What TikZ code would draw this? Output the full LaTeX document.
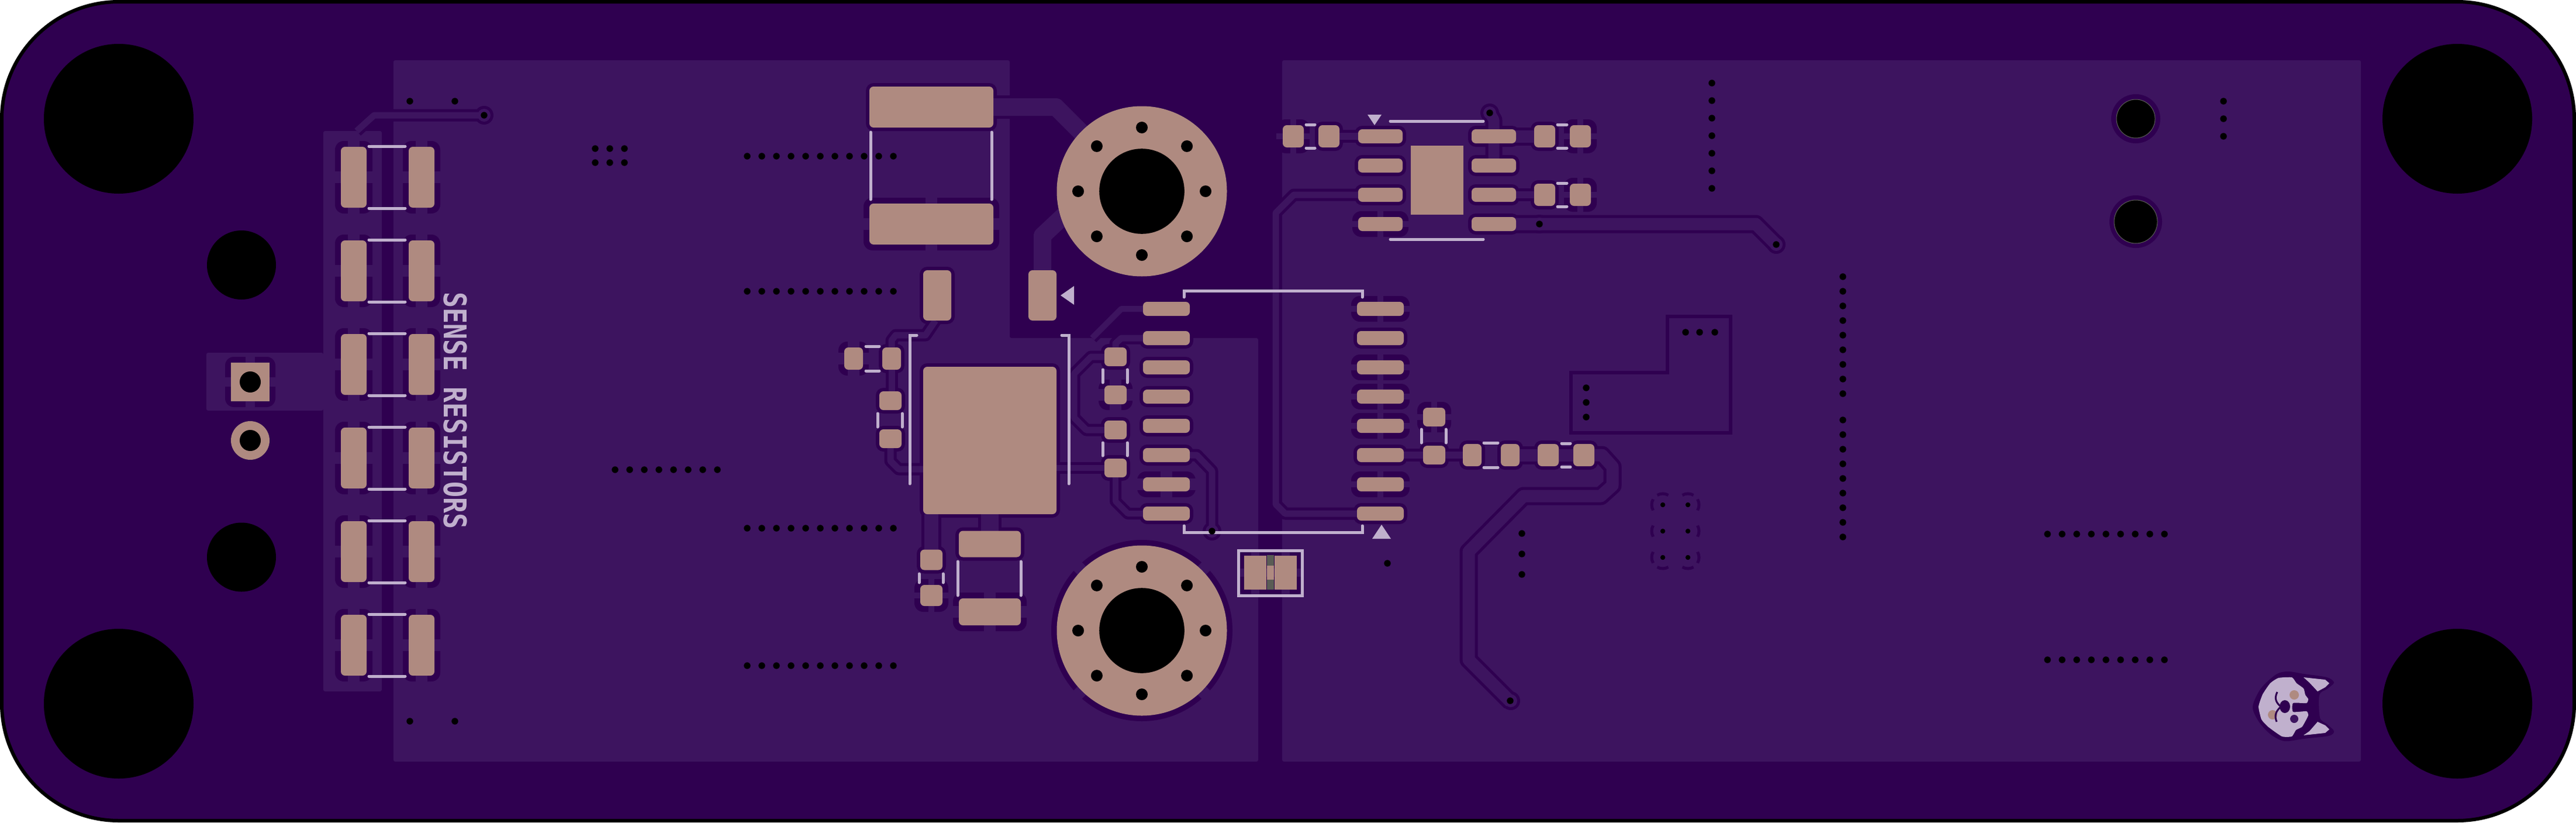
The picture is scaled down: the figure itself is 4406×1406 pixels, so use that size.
\documentclass[tikz,border=0pt]{standalone}
\usepackage{fontspec}
\usepackage{graphicx}
\newfontfamily\silkfont{DejaVu Sans Mono}
\definecolor{boardpurple}{RGB}{47,0,80}
\definecolor{pourpurple}{RGB}{61,20,95}
\definecolor{copperpad}{RGB}{175,138,128}
\definecolor{silkwhite}{RGB}{192,176,205}
\definecolor{leadgray}{RGB}{90,92,85}
\tikzset{
  pour/.style={fill=pourpurple},
  clearing/.style={fill=boardpurple},
  copper/.style={fill=copperpad},
  silk/.style={draw=silkwhite,line width=0.05cm,line cap=round},
  silkmark/.style={fill=silkwhite},
  drill/.style={fill=black},
  trk/.style={draw=\tcol,line width=(#1+\textra)*0.01cm,line join=round},
}
\newcommand{\thermalpad}[5]{%
  \ifnum\padpass=0
    \fill[clearing,rounded corners=1.5mm] ({#1-#3/2-10},{#2-#4/2-10}) rectangle ++({#3+20},{#4+20});
    \fill[pour] ({#1-#5/2},{#2-#4/2-11}) rectangle ++(#5,{#4+22});
    \fill[pour] ({#1-#3/2-11},{#2-#5/2}) rectangle ++({#3+22},#5);
  \else
    \fill[copper,rounded corners=0.7mm] ({#1-#3/2},{#2-#4/2}) rectangle ++(#3,#4);
  \fi}
\newcommand{\solidpad}[4]{%
  \ifnum\padpass=0
    \fill[clearing,rounded corners=1.3mm] ({#1-#3/2-6},{#2-#4/2-6}) rectangle ++({#3+12},{#4+12});
  \else
    \fill[copper,rounded corners=0.7mm] ({#1-#3/2},{#2-#4/2}) rectangle ++(#3,#4);
  \fi}
\newcommand{\boardpads}{%
  \foreach \y in {303,463,623,783,943,1103} {
    \thermalpad{605}{\y}{44}{104}{20}
    \thermalpad{721}{\y}{44}{104}{20}
  }
  \solidpad{1593}{183}{212}{70}
  \thermalpad{1593}{383}{212}{70}{20}
  \solidpad{1603}{505}{48}{86}
  \solidpad{1783}{505}{48}{86}
  \thermalpad{1460}{613}{32}{38}{20}
  \solidpad{1525}{613}{32}{38}
  \solidpad{1523}{685}{38}{32}
  \solidpad{1523}{750}{38}{32}
  \solidpad{1693}{753}{228}{252}
  \solidpad{1908}{610}{38}{32}
  \thermalpad{1908}{675}{38}{32}{20}
  \solidpad{1908}{735}{38}{32}
  \solidpad{1908}{800}{38}{32}
  \solidpad{1593}{957}{38}{35}
  \thermalpad{1593}{1018}{38}{36}{10}
  \solidpad{1693}{930}{106}{45}
  \thermalpad{1693}{1046}{106}{46}{20}
  \foreach \y in {528,578,628,678,728,778,878} {\solidpad{1995}{\y}{80}{24}}
  \thermalpad{1995}{828}{80}{24}{20}
  \foreach \y in {528,628,678,728,828} {\thermalpad{2361}{\y}{80}{24}{10}}
  \foreach \y in {578,778,878} {\solidpad{2361}{\y}{80}{24}}
  \thermalpad{2453}{713}{38}{32}{10}
  \solidpad{2453}{778}{38}{32}
  \solidpad{2518}{778}{32}{38}
  \solidpad{2583}{778}{32}{38}
  \solidpad{2648}{778}{36}{38}
  \solidpad{2709}{778}{36}{38}
  \solidpad{2361}{233}{76}{24}
  \solidpad{2361}{283}{76}{24}
  \solidpad{2361}{333}{76}{24}
  \thermalpad{2361}{383}{76}{24}{10}
  \foreach \y in {233,283,333,383} {\solidpad{2555}{\y}{76}{24}}
  \thermalpad{2212}{233}{36}{38}{10}
  \solidpad{2273}{233}{36}{38}
  \solidpad{2642}{233}{36}{38}
  \thermalpad{2703}{233}{36}{38}{10}
  \solidpad{2642}{333}{36}{38}
  \thermalpad{2703}{333}{36}{38}{10}
}
\begin{document}
\begin{tikzpicture}[x=0.01cm,y=-0.01cm]
\useasboundingbox (0,0) rectangle (4406,1406);
\fill[white] (0,0) rectangle (4406,1406);
\filldraw[clearing,draw=black,line width=0.06cm,rounded corners=2cm] (3,3) rectangle (4403,1403);

\fill[pour,rounded corners=0.3mm] (673,103) -- (1727,103) -- (1727,578) -- (2152,578) -- (2152,1302) -- (673,1302) -- cycle;
\fill[pour,rounded corners=0.3mm] (2193,103) rectangle (4038,1302);
\fill[pour,rounded corners=0.3mm] (553,224) rectangle (653,1182);
\fill[pour,rounded corners=0.3mm] (353,603) rectangle (553,702);

\draw[boardpurple,line width=0.06cm] (2687,637) -- (2852,637) -- (2852,541) -- (2960,541) -- (2960,740) -- (2687,740) -- cycle;

\def\padpass{0}
\boardpads
\thermalpad{428}{653}{66}{66}{16}
\thermalpad{2147}{979}{38}{58}{14}
\thermalpad{2199}{979}{38}{58}{14}
\fill[clearing] (1953,1078) circle (155);
\draw[pourpurple,line width=0.2cm] (1953,1078) ++(45:160) -- ++(225:320);
\draw[pourpurple,line width=0.2cm] (1953,1078) ++(135:160) -- ++(315:320);
\foreach \y in {863,908,953} {
  \draw[boardpurple,line width=0.05cm] (2844,\y) ++(150:19) arc (150:210:19);
  \draw[boardpurple,line width=0.05cm] (2887,\y) ++(-30:19) arc (-30:30:19);
}
\foreach \x in {2844,2887} {
  \draw[boardpurple,line width=0.05cm] (\x,863) ++(240:19) arc (240:300:19);
  \draw[boardpurple,line width=0.05cm] (\x,953) ++(60:19) arc (60:120:19);
}

\foreach \textra/\tcol in {10/boardpurple,0/pourpurple} {
  \draw[trk=30] (1699,183) -- (1806,183) -- (1870,247);
  \draw[trk=30] (1783,462) -- (1783,403) -- (1850,340);
  \draw[trk=11] (610,224) -- (640,197) -- (828,197);
  \draw[trk=11] (1600,548) -- (1583,573) -- (1532,573) -- (1525,582) -- (1525,600);
  \draw[trk=11] (1525,632) -- (1525,669);
  \draw[trk=11] (1523,766) -- (1523,788) -- (1537,802) -- (1582,802);
  \draw[trk=10] (1807,800) -- (1892,800);
  \draw[trk=11] (1889,610) -- (1866,610) -- (1837,639) -- (1837,714) -- (1858,735) -- (1889,735);
  \draw[trk=11] (1908,597) -- (1908,587) -- (1918,578) -- (1958,578);
  \draw[trk=10] (1958,528) -- (1918,528) -- (1868,578);
  \draw[trk=10] (1908,813) -- (1908,857) -- (1929,878) -- (1958,878);
  \draw[trk=30] (1693,879) -- (1693,910);
  \draw[trk=24] (1593,879) -- (1593,942);
  \draw[trk=11] (2032,778) -- (2047,778) -- (2073,805) -- (2073,908);
  \draw[trk=12] (2398,778) -- (2436,778);
  \draw[trk=12] (2470,778) -- (2505,778);
  \draw[trk=21] (2596,778) -- (2633,778);
  \draw[trk=21] (2663,778) -- (2694,778);
  \draw[trk=21] (2724,778) -- (2740,778) -- (2758,798) -- (2758,830) -- (2738,848) -- (2606,848) -- (2512,943) -- (2512,1128) -- (2584,1200);
  \draw[trk=12] (2288,233) -- (2326,233);
  \draw[trk=21] (2590,233) -- (2627,233);
  \draw[trk=12] (2590,333) -- (2627,333);
  \draw[trk=19] (2548,193) -- (2555,205) -- (2555,283);
  \draw[trk=21] (2590,383) -- (3003,383) -- (3038,418);
  \draw[trk=11] (2326,333) -- (2213,333) -- (2182,364) -- (2182,862) -- (2198,878) -- (2324,878);
  \foreach \x/\y in {828/197,2073/908,2548/193,2633/383,3038/418,2584/1198} {
    \fill[\tcol] (\x,\y) circle ({11+\textra/2});
  }
}

\def\padpass{1}
\boardpads
\fill[copper] (395,620) rectangle (461,686);
\fill[copper] (428,753) circle (33);
\fill[copper] (2128,950) rectangle (2166,1008);
\fill[copper] (2180,950) rectangle (2218,1008);
\fill[leadgray] (2167,949) rectangle (2179,1008);
\fill[copper] (2167,967) rectangle (2179,991);
\fill[copper] (1953,327) circle (145.5);
\fill[copper] (1953,1078) circle (145.5);
\fill[copper] (2413,249) rectangle (2503,367);

\foreach \y in {250,410,570,730,890,1050} {
  \draw[silk] (631,\y) -- (693,\y);
  \draw[silk] (631,{\y+106}) -- (693,{\y+106});
}
\draw[silk] (1489,226) -- (1489,341);
\draw[silk] (1696,226) -- (1696,341);
\draw[silk] (1568,573) -- (1556,573) -- (1556,827);
\draw[silk] (1816,573) -- (1828,573) -- (1828,827);
\draw[silk] (1481,592) -- (1504,592);
\draw[silk] (1481,634) -- (1504,634);
\draw[silk] (1501,707) -- (1501,730);
\draw[silk] (1543,707) -- (1543,730);
\draw[silk] (1886,632) -- (1886,654);
\draw[silk] (1928,632) -- (1928,654);
\draw[silk] (1886,757) -- (1886,779);
\draw[silk] (1928,757) -- (1928,779);
\draw[silk] (1572,981) -- (1572,996);
\draw[silk] (1613,981) -- (1613,996);
\draw[silk] (1638,960) -- (1638,1018);
\draw[silk] (1746,960) -- (1746,1018);
\draw[silk] (2025,508) -- (2025,497) -- (2330,497) -- (2330,508);
\draw[silk] (2025,899) -- (2025,910) -- (2330,910) -- (2330,899);
\draw[silk] (2431,734) -- (2431,757);
\draw[silk] (2473,734) -- (2473,757);
\draw[silk] (2538,757) -- (2562,757);
\draw[silk] (2538,799) -- (2562,799);
\draw[silk] (2671,758) -- (2686,758);
\draw[silk] (2671,798) -- (2686,798);
\draw[silk] (2378,207) -- (2537,207);
\draw[silk] (2378,409) -- (2537,409);
\draw[silk] (2234,213) -- (2249,213);
\draw[silk] (2234,253) -- (2249,253);
\draw[silk] (2664,213) -- (2680,213);
\draw[silk] (2664,253) -- (2680,253);
\draw[silk] (2664,313) -- (2680,313);
\draw[silk] (2664,353) -- (2680,353);
\draw[silk] (2118,941) rectangle (2227,1018);
\fill[silkmark] (1814,505) -- (1837,489) -- (1837,521) -- cycle;
\fill[silkmark] (2347,921) -- (2379,921) -- (2363,897) -- cycle;
\fill[silkmark] (2339,196) -- (2363,196) -- (2351,214) -- cycle;

\node[text=silkwhite,rotate=-90,inner sep=0pt,font=\silkfont\bfseries\fontsize{15.2}{16}\selectfont] (sensetext) at (778.5,702) {\scalebox{0.84}[1]{SENSE RESISTORS}};

\fill[clearing] plot[smooth cycle,tension=0.5] coordinates {(3853,1208) (3867,1177) (3893,1153) (3913,1148) (3940,1152) (3980,1158) (3992,1167) (3980,1178) (3967,1188) (3968,1227) (3980,1238) (3992,1250) (3983,1258) (3940,1263) (3907,1267) (3883,1255) (3863,1233)};
\fill[silkmark] plot[smooth cycle,tension=0.3] coordinates {(3863,1208) (3870,1187) (3883,1168) (3897,1159) (3920,1158) (3928,1168) (3940,1177) (3943,1188) (3948,1195) (3945,1202) (3922,1202) (3922,1217) (3945,1216) (3948,1223) (3942,1235) (3937,1243) (3927,1248) (3920,1259) (3903,1259) (3880,1243) (3868,1230)};
\fill[silkmark] (3940,1158) -- (3977,1162) -- (3984,1168) -- (3977,1175) -- (3964,1182) -- (3950,1167) -- cycle;
\fill[silkmark] (3940,1257) -- (3977,1253) -- (3984,1247) -- (3977,1240) -- (3964,1234) -- (3950,1250) -- cycle;
\fill[copper] (3924,1188) circle (8);
\fill[copper] (3887,1222) circle (8);
\fill[pour] (3924,1229) circle (7);
\fill[clearing] (3908,1208) ellipse (9 and 11);
\draw[boardpurple,line width=0.03cm] (3895,1183) .. controls (3889,1195) and (3894,1202) .. (3901,1208) .. controls (3894,1215) and (3889,1222) .. (3894,1234);

\foreach \x in {203,4203} {
  \foreach \y in {203,1203} {
    \fill[drill] (\x,\y) circle (128);
  }
}
\fill[drill] (413,453) circle (59);
\fill[drill] (413,952.5) circle (59);
\fill[drill] (428,653) circle (18);
\fill[drill] (428,753) circle (18);

\foreach \c in {327,1078} {
  \fill[drill] (1953,\c) circle (72.8);
  \foreach \a in {0,45,...,315} {
    \fill[drill] (1953,\c) ++(\a:109) circle (10);
  }
}

\fill[clearing] (3653,203) circle (42);
\fill[clearing] (3653,379) circle (45);
\filldraw[drill,draw=leadgray,line width=0.01cm] (3653,203) circle (33);
\filldraw[drill,draw=leadgray,line width=0.01cm] (3653,379) circle (37);

\foreach \y in {267,498,903,1138} {
  \foreach \n in {0,...,10} {
    \fill[drill] ({1278+25*\n},\y) circle (5.7);
  }
}
\foreach \n in {0,...,7} {\fill[drill] ({1052+25*\n},803) circle (5.7);}
\foreach \x/\y in {701/173,778/173,701/1233,778/1233,1018/254,1043/254,1068/254,1018/278,1043/278,1068/278,828/197,2073/908,2548/193,2633/383,3038/418,2583/1198,2883/568,2907/568,2933/568,2713/663,2713/688,2713/713,2603/912,2603/947,2603/982,2373/963,3803/173,3803/203,3803/233} {
  \fill[drill] (\x,\y) circle (5.7);
}
\foreach \n in {0,...,6} {\fill[drill] (2928,{142+30*\n}) circle (5.7);}
\foreach \n in {0,...,8} {
  \fill[drill] (3152,{473+25*\n}) circle (5.7);
  \fill[drill] (3152,{718+25*\n}) circle (5.7);
  \fill[drill] ({3502+25*\n},913) circle (5.7);
  \fill[drill] ({3502+25*\n},1128) circle (5.7);
}
\foreach \x in {2844,2887} {
  \foreach \y in {863,908,953} {
    \fill[drill] (\x,\y) circle (4.2);
  }
}
\end{tikzpicture}
\end{document}
